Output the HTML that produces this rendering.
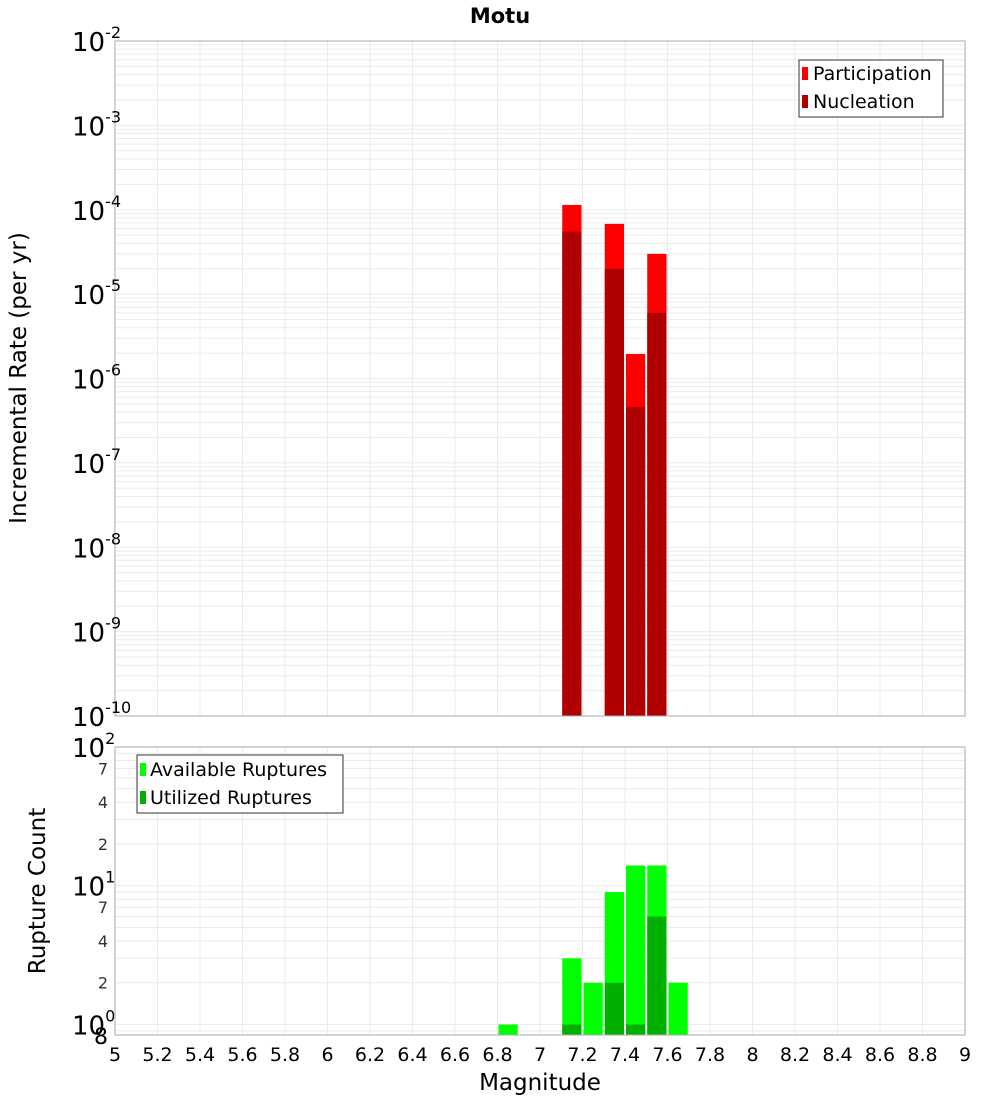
<!DOCTYPE html>
<html><head><meta charset="utf-8"><style>
body{margin:0;background:#fff;font-family:"Liberation Sans","DejaVu Sans",sans-serif}
svg text{font-family:"DejaVu Sans","Liberation Sans",sans-serif}
</style></head><body>
<svg id="chart" width="1000" height="1100">
<text x="500" y="23" text-anchor="middle" font-size="21" font-weight="bold">Motu</text>
<g id="topPlot"></g><g id="botPlot"></g>
</svg>
<script>
const mags=[7.15,7.35,7.45,7.55];
const participation=[1.14e-4,6.8e-5,1.95e-6,3.0e-5];
const nucleation=[5.5e-5,2.0e-5,4.6e-7,6.0e-6];
const rupMags=[6.85,7.15,7.25,7.35,7.45,7.55,7.65];
const available=[1,3,2,9,14,14,2];
const utilized=[0,1,0,2,1,6,0];
const xTicks=[5,5.2,5.4,5.6,5.8,6,6.2,6.4,6.6,6.8,7,7.2,7.4,7.6,7.8,8,8.2,8.4,8.6,8.8,9];
const topExps=[-2,-3,-4,-5,-6,-7,-8,-9,-10];
const botMinorLabels=[2,4,7];

const NS='http://www.w3.org/2000/svg';
const L=115,R=965;
const X=m=>L+(m-5)/4*(R-L);
const T0=41,T1=716;
const yTop=v=>T0+(-2-Math.log10(v))/8*(T1-T0);
const B0=747,B1=1035,BL=0.84;
const yBot=v=>B0+(2-Math.log10(v))/(2-Math.log10(BL))*(B1-B0);
function el(p,t,a,txt){const e=document.createElementNS(NS,t);for(const k in a)e.setAttribute(k,a[k]);if(txt!==undefined)e.textContent=txt;p.appendChild(e);return e;}
const gTop=document.getElementById('topPlot'),gBot=document.getElementById('botPlot');

for(let d=-10;d<-2;d++)for(let k=1;k<10;k++){const y=yTop(k*Math.pow(10,d));
const g=el(gTop,'line',{x1:L,x2:R,y1:y,y2:y,stroke:'#ebebeb','stroke-width':1});

}
xTicks.forEach(t=>{const g=el(gTop,'line',{x1:X(t),x2:X(t),y1:T0,y2:T1,stroke:'#ebebeb'});


const h=el(gBot,'line',{x1:X(t),x2:X(t),y1:B0,y2:B1,stroke:'#ebebeb'});

});
const bw=(R-L)/40;
mags.forEach((m,i)=>{
const x=X(m)-bw/2+1;
const p=el(gTop,'rect',{x:x,y:yTop(participation[i]),width:bw-2,height:T1-yTop(participation[i]),fill:'#ff0000'});


const n=el(gTop,'rect',{x:x,y:yTop(nucleation[i]),width:bw-2,height:T1-yTop(nucleation[i]),fill:'#b00000'});

});
el(gTop,'rect',{x:L,y:T0,width:R-L,height:T1-T0,fill:'none',stroke:'#aaa'});
topExps.forEach(e=>{const y=yTop(Math.pow(10,e));
const t=el(gTop,'text',{x:72,y:y+10,'font-size':26});


t.textContent='10';el(t,'tspan',{dy:-13,'font-size':16},String(e));});
const yt=el(gTop,'text',{transform:'translate(26,378) rotate(-90)','text-anchor':'middle','font-size':23},'Incremental Rate (per yr)');


const lg=el(gTop,'g',{});


el(lg,'rect',{x:799,y:60,width:144,height:57,fill:'#fff',stroke:'#333'});
el(lg,'rect',{x:802,y:67,width:6,height:13,fill:'#ff0000'});
el(lg,'text',{x:813,y:80,'font-size':19},'Participation');
el(lg,'rect',{x:802,y:95,width:6,height:13,fill:'#b00000'});
el(lg,'text',{x:813,y:108,'font-size':19},'Nucleation');

for(let d=-1;d<2;d++)for(let k=1;k<10;k++){const v=k*Math.pow(10,d);if(v<BL)continue;const y=yBot(v);
const g=el(gBot,'line',{x1:L,x2:R,y1:y,y2:y,stroke:'#ebebeb'});

}
rupMags.forEach((m,i)=>{const x=X(m)-bw/2+1;
const a=el(gBot,'rect',{x:x,y:yBot(available[i]),width:bw-2,height:B1-yBot(available[i]),fill:'#00ff00'});


if(utilized[i]>0){const u=el(gBot,'rect',{x:x,y:yBot(utilized[i]),width:bw-2,height:B1-yBot(utilized[i]),fill:'#00b000'});

}});
el(gBot,'rect',{x:L,y:B0,width:R-L,height:B1-B0,fill:'none',stroke:'#aaa'});
[0,1,2].forEach(e=>{const y=yBot(Math.pow(10,e));
const t=el(gBot,'text',{x:72,y:y+10,'font-size':26});


t.textContent='10';el(t,'tspan',{dy:-13,'font-size':16},String(e));});
[0,1].forEach(d=>botMinorLabels.forEach(k=>{const t=el(gBot,'text',{x:108,y:yBot(k*Math.pow(10,d))+6,'font-size':16,'text-anchor':'end',fill:'#333'},String(k));

}));
const e8=el(gBot,'text',{x:108,y:B1+9,'font-size':22,'text-anchor':'end'},'8');


xTicks.forEach(t=>{const s=el(gBot,'text',{x:X(t),y:1061,'font-size':19,'text-anchor':'middle'},String(t));

});
const xt=el(gBot,'text',{x:540,y:1090,'font-size':23,'text-anchor':'middle'},'Magnitude');


const yb=el(gBot,'text',{transform:'translate(45,891) rotate(-90)','text-anchor':'middle','font-size':23},'Rupture Count');


const lb=el(gBot,'g',{});


el(lb,'rect',{x:137,y:755,width:206,height:58,fill:'#fff',stroke:'#333'});
el(lb,'rect',{x:140,y:763,width:6,height:13,fill:'#00ff00'});
el(lb,'text',{x:150,y:776,'font-size':19},'Available Ruptures');
el(lb,'rect',{x:140,y:791,width:6,height:13,fill:'#00b000'});
el(lb,'text',{x:150,y:804,'font-size':19},'Utilized Ruptures');
</script>
</body></html>
